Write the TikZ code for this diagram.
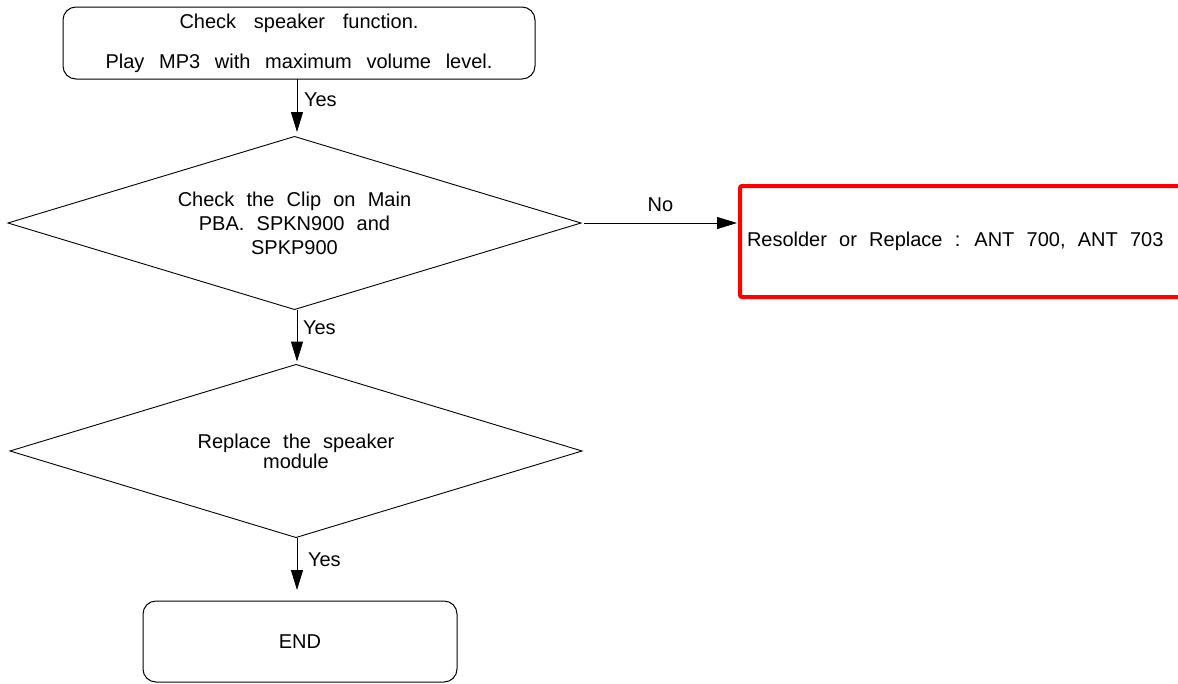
\documentclass[tikz,border=0pt]{standalone}
\usepackage{fontspec}
\setmainfont{Liberation Sans}[WordSpace={2.2,1,1}]
\usetikzlibrary{arrows.meta,shapes.geometric}
\newcommand\diagfont{\fontsize{20}{24}\selectfont}
\begin{document}
\begin{tikzpicture}[x=1pt,y=-1pt,
  base/.style={font=\diagfont, inner sep=0pt, outer sep=0pt},
  rbox/.style={base, draw, line width=1pt, rounded corners=13pt, shape=rectangle, align=center},
  dia/.style={base, draw, line width=0.9pt, shape=diamond, aspect=3.3, align=center},
  redbox/.style={base, draw=red, line width=4pt, rounded corners=2pt, shape=rectangle, align=flush left, inner xsep=7pt},
  arr/.style={line width=1pt, -{Triangle[length=20pt,width=12pt]}},
  lbl/.style={base}
]
\useasboundingbox (0,0) rectangle (1178,683);

\node[rbox, minimum width=472pt, minimum height=72pt] (start) at (299,43)
  {\hbox to 239pt{Check speaker function.}\\[16pt]\hbox to 387pt{Play MP3 with maximum volume level.}};

\node[dia, minimum width=573pt, minimum height=173pt] (d1) at (294.5,223)
  {Check the Clip on Main\\PBA. SPKN900 and\\SPKP900};

\node[dia, minimum width=572pt, minimum height=173pt] (d2) at (296,451)
  {Replace the speaker\\[-4pt]module};

\node[rbox, minimum width=314pt, minimum height=81pt] (end) at (300,641.5) {END};

\node[redbox, anchor=west, minimum height=111pt, text width=450pt] (fix) at (740,241.5)
  {Resolder or Replace : ANT 700, ANT 703};

\coordinate (ax) at (297,0);

\draw[arr, shorten >=4.5pt] (start.south -| ax) -- (d1.north -| ax);
\draw[arr, shorten >=3pt] (d1.south -| ax) -- (d2.north -| ax);
\draw[arr, shorten >=11pt] (d2.south -| ax) -- (end.north -| ax);
\draw[arr, shorten <=3pt, shorten >=3pt] (d1.east) -- (d1.east -| fix.west)
  node[lbl, midway, above=11pt] (no) {No};

\node[lbl, anchor=base west] (yes1) at (304,106) {Yes};
\node[lbl, anchor=base west] (yes2) at (303,334) {Yes};
\node[lbl, anchor=base west] (yes3) at (308,566) {Yes};
\end{tikzpicture}
\end{document}
